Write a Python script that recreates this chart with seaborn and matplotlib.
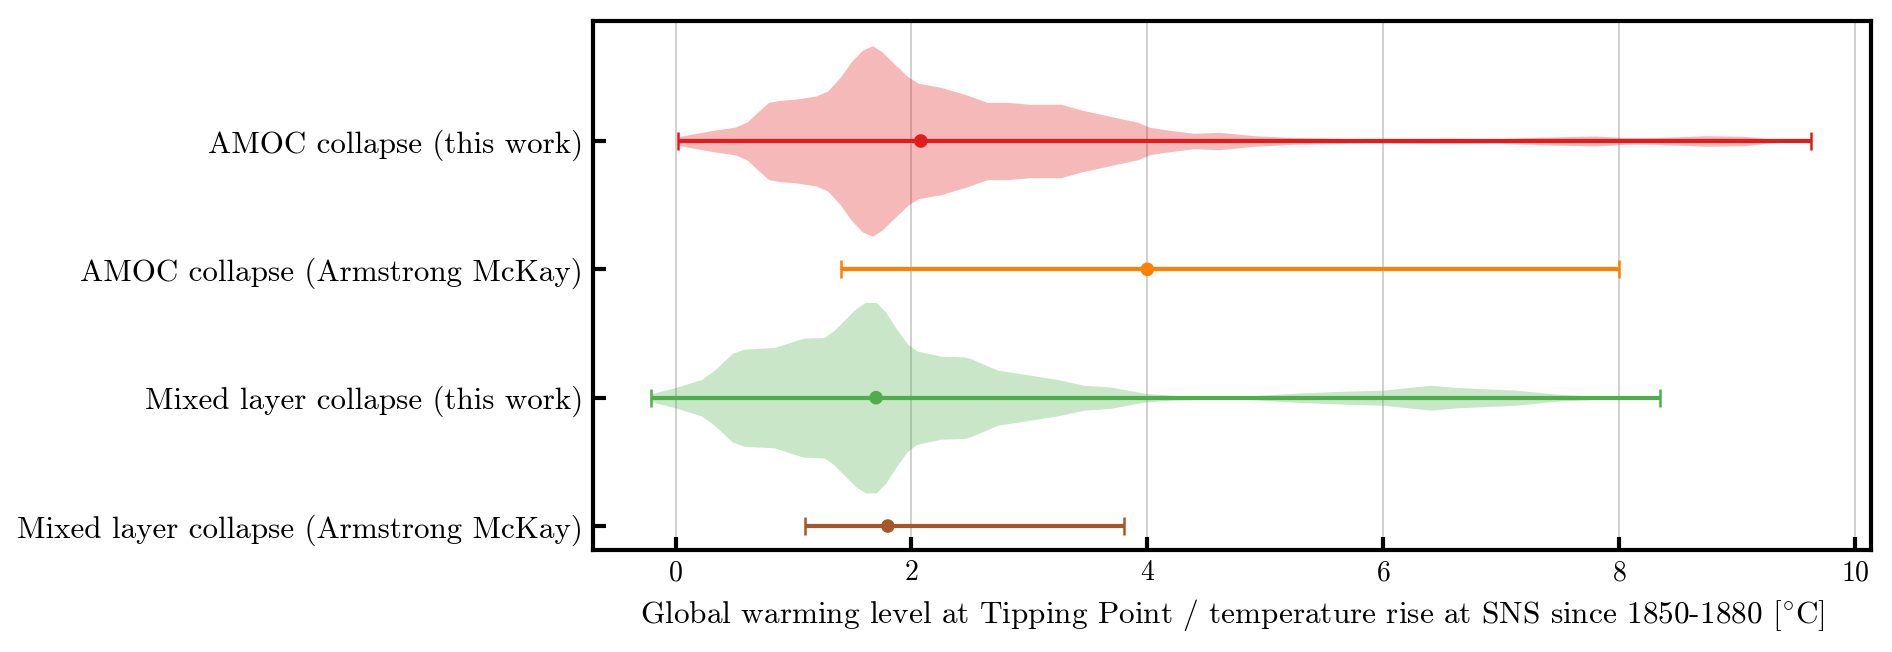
import numpy as np
import pandas as pd
import matplotlib
matplotlib.use("Agg")
import matplotlib.pyplot as plt
import seaborn as sns

# ---------------- data ----------------
categories = [
    "AMOC collapse (this work)",
    "AMOC collapse (Armstrong McKay)",
    "Mixed layer collapse (this work)",
    "Mixed layer collapse (Armstrong McKay)",
]
centers = [2.08, 4.0, 1.70, 1.80]
lows = [0.02, 1.40, -0.21, 1.10]
highs = [9.63, 8.0, 8.35, 3.80]

# violin outlines (temperature, relative density) for "this work" rows
amoc_temp = [0.02, 0.30, 0.51, 0.61, 0.70, 0.79, 0.89, 1.01, 1.19, 1.29, 1.40,
             1.49, 1.585, 1.67, 1.75, 1.85, 1.97, 2.06, 2.25, 2.47, 2.64, 2.81,
             3.01, 3.27, 3.44, 3.74, 3.92, 4.02, 4.13, 4.39, 4.61, 4.91, 5.25,
             5.90, 6.55, 6.98, 7.41, 7.80, 8.06, 8.28, 8.75, 9.06, 9.27, 9.62]
amoc_dens = [4.3, 10.3, 14.0, 19.3, 29.3, 38.7, 40.7, 41.7, 45.0, 50.0, 64.3,
             79.3, 91.0, 95.3, 89.3, 77.7, 64.3, 57.7, 53.7, 46.0, 38.7, 38.7,
             36.7, 36.7, 31.0, 23.3, 18.7, 13.7, 11.7, 7.7, 8.7, 5.3, 3.3,
             2.0, 2.7, 2.3, 4.0, 5.0, 3.3, 3.3, 5.3, 4.7, 2.0, 0.5]

ml_temp = [-0.20, 0.00, 0.22, 0.33, 0.48, 0.58, 0.84, 1.01, 1.09, 1.26, 1.34,
           1.53, 1.61, 1.70, 1.78, 1.88, 1.97, 2.05, 2.25, 2.45, 2.50, 2.73,
           3.01, 3.18, 3.24, 3.46, 3.68, 3.99, 4.20, 4.56, 4.86, 5.30, 5.67,
           6.00, 6.40, 6.62, 6.95, 7.13, 7.50, 7.87, 8.35]
ml_dens = [4.2, 10.2, 18.2, 27.5, 44.2, 48.5, 50.2, 56.8, 59.5, 60.2, 66.8,
           89.2, 95.2, 95.2, 85.8, 67.5, 53.2, 46.5, 41.5, 40.8, 39.2, 27.5,
           22.5, 19.2, 18.2, 12.5, 10.8, 4.2, 2.5, 1.5, 1.8, 4.8, 6.5,
           7.5, 12.5, 10.2, 8.5, 7.5, 3.2, 1.5, 1.0]

colors = ["#e41a1c", "#ff7f00", "#4daf4a", "#a65628"]
xlabel = (r"Global warming level at Tipping Point / temperature rise at SNS "
          r"since 1850-1880 [$^{\circ}$C]")

# ---------------- style ----------------
sns.set_theme(style="ticks")
plt.rcParams.update({
    "font.family": ["cmr10", "DejaVu Serif"],
    "mathtext.fontset": "cm",
    "axes.formatter.use_mathtext": True,
    "axes.edgecolor": "black",
    "axes.linewidth": 1.5,
    "xtick.direction": "in",
    "ytick.direction": "in",
    "xtick.major.size": 4.6,
    "ytick.major.size": 4.6,
    "xtick.major.width": 1.5,
    "ytick.major.width": 1.5,
    "xtick.color": "black",
    "ytick.color": "black",
    "text.color": "black",
    "axes.labelcolor": "black",
})

fig = plt.figure(figsize=(9.46, 3.26), dpi=200)
ax = fig.add_axes([0.3134, 0.1564, 0.9889 - 0.3134, 0.9678 - 0.1564])

positions = list(range(len(categories)))
max_half = 0.742

ax.grid(axis="x", color="#c8c8c8", linewidth=0.6, zorder=0)
ax.set_axisbelow(True)

violins = [(0, amoc_temp, amoc_dens), (2, ml_temp, ml_dens)]
for pos, t, d in violins:
    d = np.asarray(d, dtype=float)
    hw = d / d.max() * max_half
    ax.fill_between(t, pos - hw, pos + hw, color=colors[pos], alpha=0.3,
                    linewidth=0, zorder=1)

for i in positions:
    ax.errorbar(centers[i], i,
                xerr=[[centers[i] - lows[i]], [highs[i] - centers[i]]],
                fmt="none", ecolor=colors[i], elinewidth=1.5,
                capsize=3.3, capthick=0.9, zorder=3)

df = pd.DataFrame({"center": centers, "pos": positions, "cat": categories})
sns.scatterplot(data=df, x="center", y="pos", hue="cat", palette=colors,
                s=24, linewidth=0, legend=False, ax=ax, zorder=4)

ax.set_xlim(-0.70, 10.135)
ax.set_ylim(3.187, -0.935)
ax.set_xticks([0, 2, 4, 6, 8, 10])
ax.set_yticks(positions)
ax.set_yticklabels(categories, fontsize=11.2)
ax.tick_params(axis="x", labelsize=10)
ax.set_xlabel(xlabel, fontsize=11.25)
ax.set_ylabel("")

fig.savefig("out.png", dpi=200)
